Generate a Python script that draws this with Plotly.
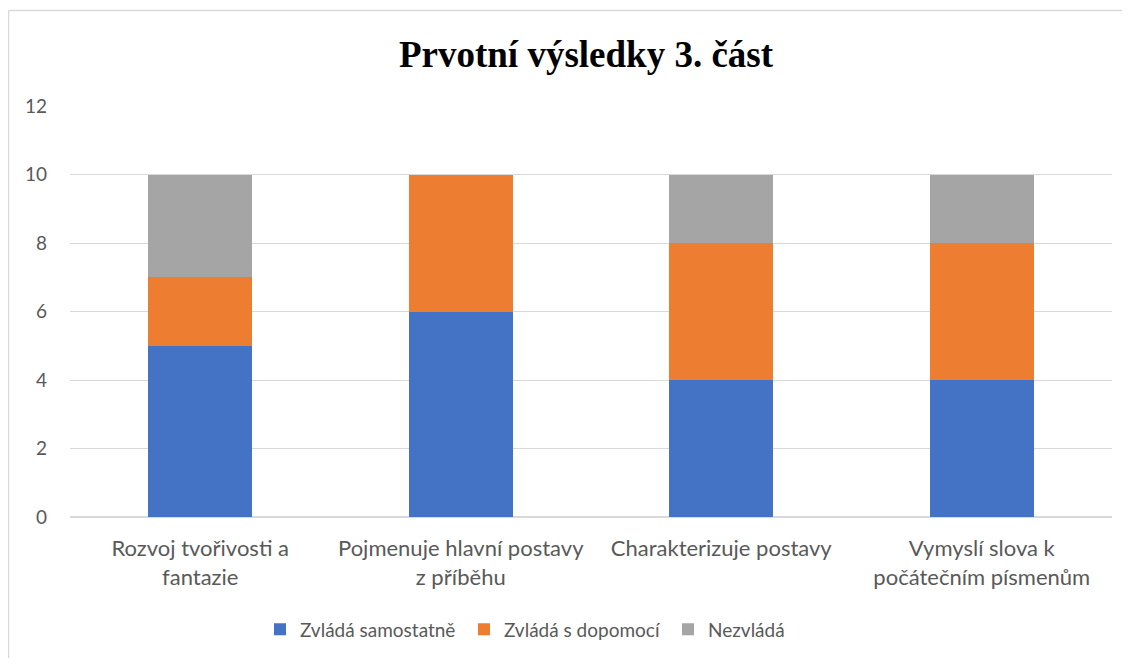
import plotly.graph_objects as go

categories = ["Rozvoj tvořivosti a<br>fantazie", "Pojmenuje hlavní postavy<br>z příběhu",
              "Charakterizuje postavy", "Vymyslí slova k<br>počátečním písmenům"]
samostatne = [5, 6, 4, 4]
dopomoci = [2, 4, 4, 4]
nezvlada = [3, 0, 2, 2]
series_names = ["Zvládá samostatně", "Zvládá s dopomocí", "Nezvládá"]
colors = ["#4472C4", "#ED7D31", "#A5A5A5"]
y_ticks = [0, 2, 4, 6, 8, 10, 12]

font_main = "Lato, 'Liberation Sans', sans-serif"

L, T, PW, PH = 62, 98, 1042, 413
W, H = 1114, 650

fig = go.Figure()
for name, vals, col in zip(series_names, [samostatne, dopomoci, nezvlada], colors):
    fig.add_trace(go.Bar(x=categories, y=vals, name=name, marker=dict(color=col, line=dict(width=0))))

fig.update_layout(
    barmode="stack",
    bargap=0.6,
    width=W, height=H,
    paper_bgcolor="white", plot_bgcolor="white",
    margin=dict(l=L, r=W - L - PW, t=T, b=H - T - PH),
    title=dict(text="<b>Prvotní výsledky 3. část</b>", x=578 / W, xanchor="center",
               y=1 - 46 / H, yanchor="middle",
               font=dict(family="'Liberation Serif', 'Times New Roman', serif", size=37, color="black")),
    font=dict(family=font_main, color="#595959", size=19),
    legend=dict(orientation="h", x=(558 - L) / PW, xanchor="center", y=(T + PH - 624) / PH, yanchor="middle",
                font=dict(size=19, color="#595959"), traceorder="normal", itemwidth=30,
                entrywidth=159, entrywidthmode="pixels"),
    showlegend=True,
)
fig.update_yaxes(range=[0, 12], tickvals=y_ticks, showgrid=True, gridcolor="#D9D9D9", gridwidth=1,
                 zeroline=True, zerolinecolor="#D9D9D9", showline=False,
                 tickfont=dict(size=19, color="#595959"), ticks="", ticklabelstandoff=22)
fig.update_xaxes(showgrid=False, showline=True, linecolor="#D9D9D9", ticks="",
                 tickfont=dict(size=22, color="#595959"), ticklabelstandoff=12)
fig.add_shape(type="line", xref="paper", yref="paper",
              x0=(0.5 - L) / PW, x1=(0.5 - L) / PW, y0=-1, y1=1 + (T - 2) / PH,
              line=dict(color="#D9D9D9", width=1.5), layer="below")
fig.add_shape(type="line", xref="paper", yref="paper",
              x0=(0.5 - L) / PW, x1=1.2, y0=1 + (T - 2) / PH, y1=1 + (T - 2) / PH,
              line=dict(color="#D9D9D9", width=1.5), layer="below")
fig.write_html("out.html")
